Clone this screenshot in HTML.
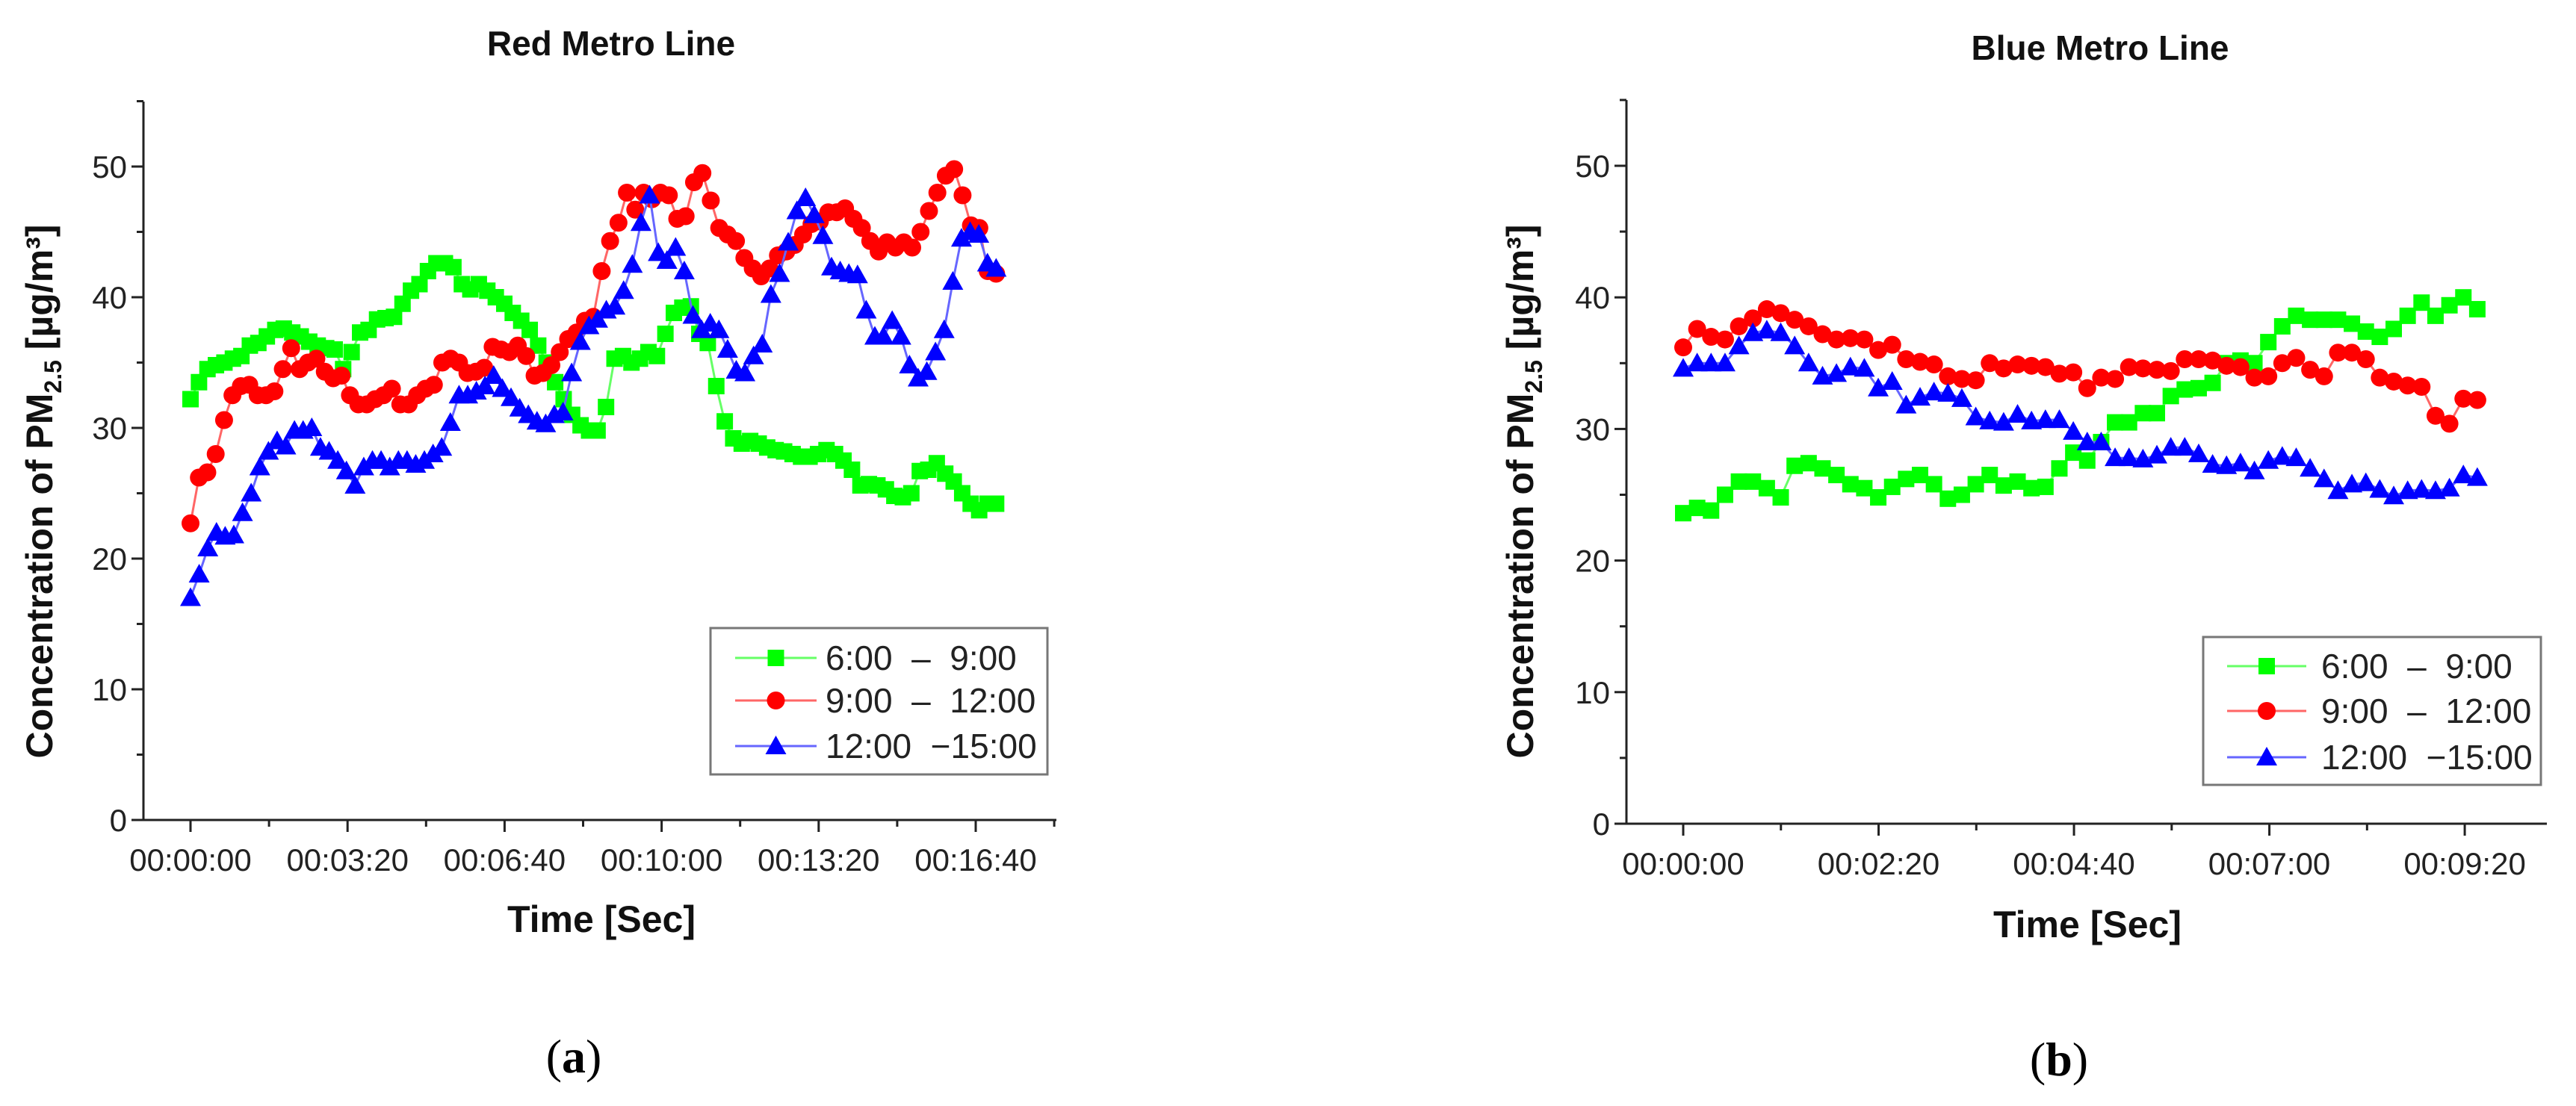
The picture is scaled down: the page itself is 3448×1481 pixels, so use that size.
<!DOCTYPE html>
<html><head><meta charset="utf-8"><style>
html,body{margin:0;padding:0;background:#fff;}
svg{display:block;font-family:"Liberation Sans",Arial,sans-serif;}
</style></head><body>
<svg id="fig" width="3448" height="1481" viewBox="0 0 3448 1481" xmlns="http://www.w3.org/2000/svg">
<rect width="3448" height="1481" fill="#fff"/>
</svg>
<script>
// ---- Data: Red Metro Line (panel a) ----
const redEndSec = 1026;
const redGreen = [32.2,33.5,34.5,34.8,35,35.3,35.5,36.3,36.5,37,37.5,37.6,37.3,37,36.6,36.3,36.1,36,34.5,35.8,37.3,37.5,38.3,38.4,38.5,39.5,40.5,41,42,42.6,42.6,42.3,41,40.6,41,40.5,40,39.5,38.8,38.2,37.5,36.3,35,33.5,32.2,31,30.2,29.8,29.8,31.6,35.3,35.5,35,35.3,35.8,35.5,37.2,38.8,39.2,39.3,37.2,36.5,33.2,30.5,29.2,28.8,29,28.8,28.5,28.3,28.2,28,27.8,27.8,28,28.3,28,27.5,26.8,25.6,25.7,25.6,25.3,24.8,24.7,25,26.7,26.8,27.3,26.5,25.9,25,24.2,23.7,24.2,24.2];
const redRed = [22.7,26.2,26.6,28,30.6,32.5,33.2,33.3,32.5,32.5,32.8,34.5,36.1,34.5,35,35.3,34.3,33.8,34,32.5,31.8,31.8,32.2,32.5,33,31.8,31.8,32.5,33,33.3,35,35.3,35,34.2,34.3,34.6,36.2,36,35.8,36.3,35.5,34,34.2,34.8,35.8,36.8,37.3,38.2,38.5,42,44.3,45.7,48,46.7,48,47.5,48,47.8,46,46.2,48.8,49.5,47.4,45.3,44.8,44.3,43,42.2,41.6,42.2,43.2,43.5,44,44.8,45.6,45.8,46.5,46.5,46.8,46,45.3,44.3,43.5,44.2,43.8,44.2,43.8,45,46.6,48,49.3,49.8,47.8,45.5,45.3,42,41.8];
const redBlue = [17,18.8,20.8,22,21.7,21.8,23.5,25,27,28.2,29,28.6,29.8,29.8,30,28.5,28.2,27.5,26.7,25.6,27,27.5,27.5,27,27.5,27.5,27.2,27.5,28,28.5,30.4,32.5,32.5,32.8,33.2,34,33,32.3,31.5,31,30.5,30.3,31,31.2,34.2,36.6,37.8,38.3,39,39.3,40.5,42.5,45.7,47.8,43.4,42.8,43.8,42,38.6,37.5,38,37.5,36,34.4,34.2,35.5,36.4,40.2,41.8,44.2,46.6,47.6,46.3,44.7,42.3,42,41.8,41.7,39,37,37,38.2,37,34.8,33.8,34.3,35.8,37.5,41.2,44.5,45,44.8,42.6,42.2];
const redTickSec = [0,200,400,600,800,1000];
const redTickLabels = ["00:00:00","00:03:20","00:06:40","00:10:00","00:13:20","00:16:40"];
// ---- Data: Blue Metro Line (panel b) ----
const blueEndSec = 569;
const blueGreen = [23.6,24,23.8,25,26,26,25.5,24.8,27.2,27.4,27,26.5,25.8,25.5,24.8,25.6,26.2,26.5,25.8,24.7,25,25.8,26.5,25.7,26,25.5,25.6,27,28.2,27.6,29,30.5,30.5,31.2,31.2,32.5,33,33.1,33.5,35,35.2,35,36.6,37.8,38.6,38.3,38.3,38.3,38,37.4,37,37.6,38.6,39.6,38.6,39.4,40,39.1];
const blueRed = [36.2,37.6,37,36.8,37.8,38.4,39.1,38.8,38.3,37.8,37.2,36.8,36.9,36.8,36,36.4,35.3,35.1,34.9,34,33.8,33.7,35,34.6,34.9,34.8,34.7,34.2,34.3,33.1,33.9,33.8,34.7,34.6,34.5,34.4,35.3,35.3,35.2,34.8,34.7,33.9,34,35,35.4,34.5,34,35.8,35.8,35.3,33.9,33.6,33.3,33.2,31,30.4,32.3,32.2];
const blueBlue = [34.6,35,35,35,36.3,37.3,37.5,37.3,36.3,35,34,34.2,34.7,34.6,33.1,33.6,31.8,32.4,32.8,32.7,32.3,30.9,30.6,30.5,31.1,30.6,30.7,30.7,29.8,29,29,27.8,27.8,27.7,28,28.6,28.6,28.1,27.3,27.2,27.4,26.8,27.6,27.9,27.8,27,26.2,25.3,25.8,25.9,25.4,24.9,25.3,25.4,25.3,25.5,26.5,26.3];
const blueTickSec = [0,140,280,420,560];
const blueTickLabels = ["00:00:00","00:02:20","00:04:40","00:07:00","00:09:20"];
const yTicks = [0,10,20,30,40,50];
const legendLabels = ["6:00  \u2013  9:00","9:00  \u2013  12:00","12:00  \u221215:00"];

const NS="http://www.w3.org/2000/svg";
const svg=document.getElementById('fig');
function mk(tag,attrs,parent){const e=document.createElementNS(NS,tag);for(const k in attrs)e.setAttribute(k,attrs[k]);(parent||svg).appendChild(e);return e;}

function marker(g,type,cx,cy,color){
  let m;
  if(type==='square') m=mk('rect',{x:cx-11,y:cy-11,width:22,height:22,fill:color},g);
  else if(type==='circle') m=mk('circle',{cx:cx,cy:cy,r:12,fill:color},g);
  else m=mk('polygon',{points:`${cx},${cy-14} ${cx-14},${cy+11} ${cx+14},${cy+11}`,fill:color},g);
  return m;
}

function panel(cfg){
  const g=mk('g',{});
  
  
  const X=t=>cfg.x0+t*cfg.sx, Y=v=>cfg.y0-v*cfg.sy;
  // title
  const title=mk('text',{x:cfg.titleX,y:cfg.titleY,'text-anchor':'middle','font-size':46,'font-weight':'bold',fill:'#111'},g);
  title.textContent=cfg.title;
  
  
  // axes
  const ax=mk('path',{d:`M${cfg.axX},${cfg.top} V${cfg.y0} H${cfg.right}`,stroke:'#222','stroke-width':3,fill:'none'},g);
  
  
  // y ticks
  for(let v=0;v<=55;v+=5){
    const major=v%10===0;
    mk('line',{x1:cfg.axX-(major?16:9),x2:cfg.axX,y1:Y(v),y2:Y(v),stroke:'#222','stroke-width':3},g);
  }
  yTicks.forEach(v=>{
    const t=mk('text',{x:cfg.axX-22,y:Y(v)+15,'text-anchor':'end','font-size':42,fill:'#222'},g);
    t.textContent=String(v);
    
    
  });
  // x ticks
  const step=cfg.ticks[1]-cfg.ticks[0];
  for(let t=cfg.ticks[0]-step/2; X(t)<=cfg.right+1; t+=step/2){
    if(X(t)<cfg.axX) continue;
    const major=Math.abs(Math.round(t/step)*step-t)<1e-6;
    mk('line',{x1:X(t),x2:X(t),y1:cfg.y0,y2:cfg.y0+(major?16:9),stroke:'#222','stroke-width':3},g);
  }
  cfg.ticks.forEach((s,i)=>{
    const t=mk('text',{x:X(s),y:cfg.y0+68,'text-anchor':'middle','font-size':42,fill:'#222'},g);
    t.textContent=cfg.tickLabels[i];
    
    
  });
  // axis titles
  const xl=mk('text',{x:cfg.xlX,y:cfg.xlY,'text-anchor':'middle','font-size':50,'font-weight':'bold',fill:'#111'},g);
  xl.textContent='Time [Sec]';
  
  
  const yl=mk('text',{x:0,y:0,'text-anchor':'middle','font-size':50,'font-weight':'bold',fill:'#111',transform:`translate(${cfg.ylX},${cfg.ylY}) rotate(-90)`},g);
  
  
  const a=mk('tspan',{},yl);a.textContent='Concentration of PM';
  const b=mk('tspan',{'font-size':32,dy:12},yl);b.textContent='2.5';
  const c=mk('tspan',{dy:-12},yl);c.textContent=' [\u00b5g/m\u00b3]';
  // series
  cfg.series.forEach(s=>{
    const n=s.data.length, dt=cfg.endSec/(n-1);
    const sg=mk('g',{},g);
    
    
    const pts=s.data.map((v,i)=>`${X(i*dt).toFixed(1)},${Y(v).toFixed(1)}`).join(' ');
    mk('polyline',{points:pts,fill:'none',stroke:s.line,'stroke-width':3},sg);
    s.data.forEach((v,i)=>{
      const m=marker(sg,s.type,X(i*dt),Y(v),s.color);
      
      
    });
  });
  // legend
  const lg=mk('g',{},g);
  
  
  const L=cfg.legend;
  mk('rect',{x:L.x,y:L.y,width:L.w,height:L.h,fill:'#fff',stroke:'#777','stroke-width':3},lg);
  cfg.series.forEach((s,i)=>{
    const ry=L.rows[i];
    const e=mk('g',{},lg);
    
    
    mk('line',{x1:L.lx1,x2:L.lx2,y1:ry,y2:ry,stroke:s.line,'stroke-width':3},e);
    marker(e,s.type,(L.lx1+L.lx2)/2,ry,s.color);
    const t=mk('text',{x:L.tx,y:ry+16,'font-size':46,fill:'#222','xml:space':'preserve'},e);
    t.style.whiteSpace='pre';
    t.textContent=legendLabels[i];
  });
}

panel({name:'red-metro-line-chart',title:'Red Metro Line',titleX:818,titleY:74,
  x0:255,sx:1.051,y0:1098,sy:17.5,axX:192,top:136,right:1414,endSec:redEndSec,
  ticks:redTickSec,tickLabels:redTickLabels,xlX:805,xlY:1248,ylX:70,ylY:658,
  series:[{name:'series-6-9',data:redGreen,type:'square',color:'#00ff00',line:'#66ff66'},
          {name:'series-9-12',data:redRed,type:'circle',color:'#ff0000',line:'#ff6666'},
          {name:'series-12-15',data:redBlue,type:'triangle',color:'#0000ff',line:'#6666ff'}],
  legend:{x:951,y:841,w:451,h:196,rows:[881,938,999],lx1:984,lx2:1093,tx:1105}});

panel({name:'blue-metro-line-chart',title:'Blue Metro Line',titleX:2811,titleY:80,
  x0:2253,sx:1.868,y0:1103,sy:17.62,axX:2177,top:134,right:3409,endSec:blueEndSec,
  ticks:blueTickSec,tickLabels:blueTickLabels,xlX:2794,xlY:1255,ylX:2052,ylY:658,
  series:[{name:'series-6-9',data:blueGreen,type:'square',color:'#00ff00',line:'#66ff66'},
          {name:'series-9-12',data:blueRed,type:'circle',color:'#ff0000',line:'#ff6666'},
          {name:'series-12-15',data:blueBlue,type:'triangle',color:'#0000ff',line:'#6666ff'}],
  legend:{x:2949,y:853,w:452,h:198,rows:[892,952,1014],lx1:2981,lx2:3087,tx:3107}});

const pa=mk('text',{x:768,y:1436,'text-anchor':'middle','font-size':64,'font-family':'Liberation Serif, serif',fill:'#000'});


pa.innerHTML='(<tspan font-weight="bold">a</tspan>)';
const pb=mk('text',{x:2756,y:1440,'text-anchor':'middle','font-size':64,'font-family':'Liberation Serif, serif',fill:'#000'});


pb.innerHTML='(<tspan font-weight="bold">b</tspan>)';
</script>
</body></html>
